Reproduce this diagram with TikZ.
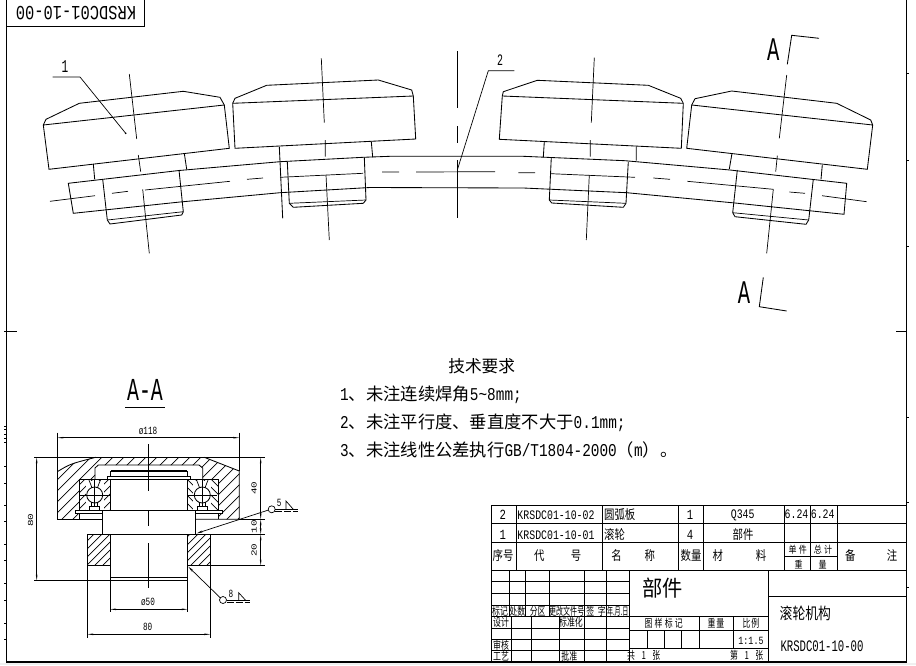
\documentclass[tikz,border=0pt]{standalone}
\usepackage{fontspec}
\usetikzlibrary{arrows.meta}
\newfontfamily\cjk{Noto Sans CJK SC}
\newfontfamily\latn{Liberation Mono}
\newcommand{\lat}[1]{\scalebox{.8}[1]{\latn\fontsize{18}{18}\selectfont #1}}
% hatch of a closed region: #1 path, #2 spacing, #3 direction
\newcommand{\hatchzone}[3]{\begin{scope}
  \clip #1;
  \foreach \k in {0,...,120} \draw[thinln] (\k*#2-200,660) -- ++(#3*220,-220);
  \end{scope}}
\begin{document}
\begin{tikzpicture}[x=1pt,y=-1pt,
    thinln/.style={line width=.7pt},
    partln/.style={line width=.85pt},
    frameln/.style={line width=1.3pt},
    tabln/.style={line width=1pt},
    dimln/.style={line width=.7pt,{Stealth[length=6pt,width=1.6pt]}-{Stealth[length=6pt,width=1.6pt]}},
    tag/.style={inner sep=0pt,font=\latn\fontsize{13}{13}\selectfont,xscale=.76,transform shape},
    cadmark/.style={inner sep=0pt,font=\latn\fontsize{20}{20}\selectfont,xscale=.77,transform shape},
    bigmono/.style={inner sep=0pt,font=\latn\fontsize{14}{14}\selectfont,xscale=.76,transform shape},
    leadtxt/.style={inner sep=0pt,font=\latn\fontsize{#1}{#1}\selectfont,xscale=.62,transform shape},
    dimtxt/.style={inner sep=0pt,font=\latn\fontsize{11}{11}\selectfont,xscale=.7,transform shape},
    zh/.style={inner sep=0pt,font=\cjk\fontsize{#1}{#1}\selectfont},
    zhs/.style={inner sep=0pt,font=\cjk\fontsize{#1}{#1}\selectfont,xscale=.8,transform shape},
    zhr/.style={inner sep=0pt,font=\cjk\fontsize{11}{11}\selectfont,xscale=.72,transform shape},
    note/.style={inner sep=0pt,anchor=west,font=\cjk\fontsize{17.3}{17.3}\selectfont},
]
  \useasboundingbox (0,0) rectangle (916,665);
  \fill[gray!12] (0,663) rectangle (916,665);

  % frame
  \draw[frameln] (6.3,0) -- (6.3,662) -- (906.7,662) -- (906.7,0);
  \draw[tabln] (6.3,26.7) -- (144,26.7) -- (144,0);
  \node[cadmark,rotate=180] (drawno) at (76,12.7) {KRSDC01-10-00};
  \draw[tabln] (4,331) -- (16.7,331) (896,331) -- (907,331);
  \foreach \t in {426,429,434,438,442,466,483,505,521,544,560,583,600,623,639} \draw[thinln] (4,\t) -- (6.3,\t);
  \foreach \t in {73,160,246,417,502,587} \draw[thinln] (906.7,\t) -- (908.5,\t);

  % roller 1
  \draw[partln] (43.3,125) -- (46,119.3) -- (79.3,103.3) -- (183.3,91.3) -- (220,97.3) -- (224.3,105) -- (229.3,148.3) -- (49,169.3) -- cycle;
  \draw[partln] (43.3,125) -- (224.3,105);
  \draw[partln] (93.3,164) -- (94.7,179.3) (184.3,153.3) -- (186.7,169.3);
  \draw[partln] (102.7,179.3) -- (107.3,220) -- (110,224) -- (181.7,215) -- (183.3,211.7) -- (179,170);
  \draw[thinln] (107.3,220) -- (183.3,211.7);
  \draw[thinln] (129.3,74) -- (136.7,139) (138.3,155) -- (140.7,171.7) (142.7,189.3) -- (149.3,253.3);

  % roller 2
  \draw[partln] (232.7,103.3) -- (235,98.3) -- (266.7,85.3) -- (378.3,80) -- (411.7,90) -- (413.3,96) -- (415.7,139) -- (235,148.3) -- cycle;
  \draw[partln] (232.7,103.3) -- (413.3,96);
  \draw[partln] (279.3,146.7) -- (282.7,218.3) (371.3,141.7) -- (372.7,157.3);
  \draw[partln] (287.3,161.7) -- (289.3,203.3) -- (293.3,207.3) -- (363.3,203.3) -- (366,200) -- (364.3,157.3);
  \draw[thinln] (289.3,203.3) -- (366,200);
  \draw[thinln] (321.3,58.3) -- (324.3,122.7) (325.3,140) -- (325.3,156.7) (326,175) -- (329.3,240);

  % roller 3
  \draw[partln] (502.3,96) -- (503.3,91.7) -- (537.3,80.3) -- (648.3,85.3) -- (680.7,98.3) -- (683.3,103.3) -- (681.3,148.3) -- (499.3,139.3) -- cycle;
  \draw[partln] (502.3,96) -- (683.3,103.3);
  \draw[partln] (544.3,141.7) -- (543.3,157.3) (636.3,146.7) -- (636.3,160.7);
  \draw[partln] (551.3,157.3) -- (549.3,200) -- (551.7,203) -- (623.3,207.3) -- (626,203.3) -- (628.3,161.7);
  \draw[thinln] (549.3,200) -- (626,203.3);
  \draw[thinln] (594.3,57.7) -- (591.3,122.7) (590.3,140) -- (590.3,156.7) (589.3,175) -- (586.3,240);

  % roller 4
  \draw[partln] (691.7,105) -- (695,98.7) -- (731.7,91) -- (836.7,103.3) -- (870.7,120) -- (872.7,125) -- (867.3,169.3) -- (686.7,148.3) -- cycle;
  \draw[partln] (691.7,105) -- (872.7,125);
  \draw[partln] (732,153.3) -- (729.3,169) (822.3,165) -- (821,179.3);
  \draw[partln] (737.3,170) -- (732.7,212.7) -- (735,216.7) -- (806,224.3) -- (808.7,220) -- (813.3,179.3);
  \draw[thinln] (732.7,212.7) -- (808.7,220);
  \draw[thinln] (786.7,75) -- (779.3,138.3) (777.3,155.7) -- (775.7,171.7) (773.3,189.3) -- (766.7,253.3);

  % arc plate
  \draw[partln] (73.3,213.3) -- (68.3,183.3) -- (179,170.5) -- (280,161.7) -- (363,157.3) -- (390,156.3) -- (523.3,156.3) -- (625,160.7) -- (730,170) -- (846.7,183.3) -- (844,214.3) -- (735,203) -- (626.7,192.7) -- (523.3,188) -- (370,187.5) -- (280,192.7) -- (180,202) -- cycle;
  % centre line of the plate
  \draw[thinln] (50,201.3) -- (95,195.7) (112,193.3) -- (128,191.3) (145,190) -- (230,181.3) (247,179.3) -- (263,178) (280,177.3) -- (363,173.3) (382,172) -- (399,172) (416,172) -- (495,171.7) (518.3,172.7) -- (535,172.7) (551,173.7) -- (635,177.3) (653.3,178) -- (670,179.3) (687.3,181.3) -- (773.3,189.3) (789.3,192) -- (805,193.3) (822,195.7) -- (866.7,201.7);
  \draw[thinln] (457.3,51) -- (457.3,108.3) (457.3,126) -- (457.3,142.7) (457.3,160) -- (457.3,217.7);

  % leaders
  \fill (125.7,133.3) circle (.9pt);
  \draw[thinln] (52.7,77) -- (80,77) -- (125.7,133.3);
  \node[leadtxt=18] (one) at (65,66.7) {1};
  \draw[thinln] (514.3,70.7) -- (488.3,70.7) -- (457.3,170);
  \node[leadtxt=16] (two) at (500,60) {2};

  % section marks
  \node[leadtxt=33] (secA) at (773.3,49.3) {A};
  \draw[partln] (787.3,64.3) -- (791.7,35.3) -- (819,38.3);
  \node[leadtxt=33] (secB) at (744,293) {A};
  \draw[partln] (763.3,277.3) -- (759.3,306.7) -- (786.7,311);

  % technical notes
  \node[zh=16.7] (noteH) at (481.7,365.7) {技术要求};
  \node[note] (noteA) at (340,395) {\lat{1}、未注连续焊角\lat{5\textasciitilde8mm;}};
  \node[note] (noteB) at (340,422.3) {\lat{2}、未注平行度、垂直度不大于\lat{0.1mm;}};
  \node[note] (noteC) at (340,450) {\lat{3}、未注线性公差执行\lat{GB/T1804-2000}（\lat{m}）。};

  % section A-A
  \node[leadtxt=32] (secTitle) at (145,390) {A-A};
  \draw[partln] (125,407.3) -- (165,407.3);

  \hatchzone{(57.3,471.7) -- (70,464) -- (95.7,457.3) -- (204.3,457.3) -- (239.3,471) -- (239.3,519.3) -- (218.7,519.3) -- (218.7,479.3) -- (202.7,479.3) -- (202.7,468) -- (199,465) -- (98.3,465) -- (95,468) -- (95,479.3) -- (79.3,479.3) -- (79.3,519.3) -- (57.3,519.3) -- cycle}{11}{1}
  \hatchzone{(79.3,479.3) rectangle (110,510)}{8}{1}
  \hatchzone{(187.7,479.3) rectangle (218.7,510)}{8}{-1}
  \hatchzone{(87.3,534.3) rectangle (110,565.7)}{8}{1}
  \hatchzone{(187.7,534.3) rectangle (210.3,565.7)}{8}{1}
  \foreach \c in {94.7,202.3} {
    \fill[white] (\c-9,481) rectangle (\c+9,510);
    \draw[partln,fill=white] (\c,495) circle (8);
    \draw[thinln] (\c-15,495) -- (\c+15,495) (\c,479.3) -- (\c,510);
    \draw[thinln] (\c-6,479.3) -- (\c-3,487) (\c+6,479.3) -- (\c+3,487);
    \draw[thinln,fill=white] (\c-5,506) rectangle (\c+5,510);
    \draw[thinln] (\c-3,506) -- (\c-3,502) (\c+3,506) -- (\c+3,502);
  }
  \draw[partln] (57.3,471.7) .. controls (70,464) .. (95.7,457.3);
  \draw[partln] (204.3,457.3) -- (239.3,471) -- (239.3,519.3) -- (195.3,519.3);
  \draw[partln] (57.3,432.7) -- (57.3,519.3) -- (102.7,519.3);
  \draw[thinln] (239.3,432.7) -- (239.3,471);
  \draw[partln] (34.3,457.3) -- (265,457.3);
  \draw[partln] (239.3,519.3) -- (265,519.3);
  \draw[partln] (87.3,534.3) -- (265,534.3);
  \draw[partln] (187.7,565.7) -- (265,565.7);
  \draw[partln] (87.3,565.7) -- (110,565.7);
  \draw[partln] (87.3,534.3) -- (87.3,638.3) (210.3,534.3) -- (210.3,638.3);
  \draw[partln] (95,479.3) -- (95,468) -- (98.3,465) -- (199,465) -- (202.7,468) -- (202.7,479.3);
  \draw[partln] (79.3,519.3) -- (79.3,479.3) -- (218.7,479.3) -- (218.7,519.3);
  \draw[partln] (107.3,476.7) rectangle (190,479.3);
  \draw[partln] (110.7,476.7) -- (110.7,471) -- (187,471) -- (187,476.7);
  \draw[line width=1.6pt] (111,470.7) -- (187,470.7);
  \draw[partln] (110,479.3) -- (110,510) (187.7,479.3) -- (187.7,510);
  \draw[partln] (79.3,510) -- (218.7,510);
  \draw[partln] (102.7,510) rectangle (195.3,534.3);
  \draw[partln,fill=white] (75.3,510) rectangle (102.7,513.3) (195.3,510) rectangle (222.7,513.3);
  \draw[partln] (79.3,513.3) -- (79.3,519.3) (218.7,513.3) -- (218.7,519.3);
  \draw[partln] (110,534.3) -- (110,611.7) (187.7,534.3) -- (187.7,611.7);
  \draw[partln] (110,577.3) -- (187.7,577.3) (111,580.7) -- (186.7,580.7);
  \draw[partln] (34.3,580.7) -- (110,580.7);
  % centre line of the section
  \draw[thinln] (148.3,444) -- (148.3,491) (148.3,510) -- (148.3,525.7) (148.3,543.3) -- (148.3,588);

  % dimensions
  \draw[dimln] (57.3,437.7) -- (239.3,437.7);
  \node[dimtxt] (dimA) at (148,430.7) {ø118};
  \draw[dimln] (36.7,457.3) -- (36.7,580.7);
  \node[dimtxt,rotate=90] (dimB) at (30.7,520) {80};
  \draw[dimln] (260.7,457.3) -- (260.7,519.3);
  \draw[dimln] (260.7,519.3) -- (260.7,534.3);
  \draw[dimln] (260.7,534.3) -- (260.7,565.7);
  \node[dimtxt,rotate=90] (dimC) at (254,488.3) {40};
  \node[dimtxt,rotate=90] (dimD) at (254,526.7) {10};
  \node[dimtxt,rotate=90] (dimE) at (254,550) {20};
  \draw[dimln] (110,609.3) -- (187.7,609.3);
  \node[dimtxt] (dimF) at (148,601.7) {ø50};
  \draw[dimln] (87.3,634.3) -- (210.3,634.3);
  \node[dimtxt] (dimG) at (147.7,626.7) {80};

  % weld marks
  \draw[thinln,{Stealth[length=6pt,width=2pt]}-] (196.7,533.3) -- (268.5,510);
  \draw[thinln] (271.7,509.3) circle (3.5);
  \draw[thinln] (275.2,509.8) -- (297.7,509.8);
  \draw[thinln,dashed,dash pattern=on 7pt off 2pt] (275.2,511.8) -- (297.7,511.8);
  \draw[thinln] (286,509.3) -- (286,501) -- (293.3,509.3);
  \node[dimtxt] (weldA) at (279.3,503.3) {5};
  \draw[thinln,{Stealth[length=6pt,width=2pt]}-] (188.3,566.7) -- (220.5,598);
  \draw[thinln] (223,600) circle (3.5);
  \draw[thinln] (226.5,600) -- (250,600);
  \draw[thinln,dashed,dash pattern=on 7pt off 2pt] (226.5,602.2) -- (250,602.2);
  \draw[thinln] (238.7,600.7) -- (238.7,592.7) -- (246,600.7);
  \node[dimtxt] (weldB) at (231,594) {8};

  % parts list
  \draw[tabln] (491.3,505) -- (906.7,505) (491.3,523.3) -- (906.7,523.3) (491.3,542.3) -- (906.7,542.3) (491.3,570) -- (906.7,570);
  \draw[tabln] (491.3,505) -- (491.3,662);
  \foreach \c in {516.7,602.7,678.7,703.3,784.3,837.7} \draw[tabln] (\c,505) -- (\c,570);
  \draw[tabln] (810,505) -- (810,570) (784.3,556.7) -- (837.7,556.7);

  \node[bigmono] (n2) at (502.7,515) {2};
  \node[tag] (code2) at (556,515) {KRSDC01-10-02};
  \node[zhs=13,anchor=west] (name2) at (604,515) {圆弧板};
  \node[bigmono] (q2) at (690,515) {1};
  \node[tag] (mat2) at (742.7,515) {Q345};
  \node[tag] (wa2) at (796.5,514) {6.24};
  \node[tag] (wb2) at (822.7,514) {6.24};
  \node[bigmono] (n1) at (502.7,535) {1};
  \node[tag] (code1) at (556,535) {KRSDC01-10-01};
  \node[zhs=13,anchor=west] (name1) at (604,535) {滚轮};
  \node[bigmono] (q1) at (690,535) {4};
  \node[zhs=13] (mat1) at (743,535) {部件};
  \node[zhs=13] (hNo) at (503,556) {序号};
  \node[zhs=13] (hCode) at (557.7,556) {代\hspace{33pt}号};
  \node[zhs=13] (hName) at (633.3,556) {名\hspace{28.6pt}称};
  \node[zhs=13] (hQty) at (691,556) {数量};
  \node[zhs=13] (hMat) at (739.5,556) {材\hspace{41pt}料};
  \node[zhs=10] (hUnit) at (797.7,550) {单\hspace{3pt}件};
  \node[zhs=10] (hTot) at (823,550) {总\hspace{3pt}计};
  \node[zhs=10] (hW) at (810.5,564.5) {重\hspace{20pt}量};
  \node[zhs=13] (hNote) at (871.2,556) {备\hspace{39pt}注};

  % title block
  \foreach \r in {581.7,593.3,605,616.7,628.3,639.3,650.7} \draw[tabln] (491.3,\r) -- (629.3,\r);
  \foreach \c in {509.3,525.3,549.3,584.3,606} \draw[tabln] (\c,570) -- (\c,616.7);
  \foreach \c in {511,531,559.3,584.3,606.7} \draw[tabln] (\c,616.7) -- (\c,662);
  \draw[tabln] (629.3,570) -- (629.3,662) (768.3,570) -- (768.3,662);
  \draw[tabln] (768.3,596.7) -- (906.7,596.7);
  \draw[tabln] (629.3,616.7) -- (768.3,616.7) (629.3,630) -- (768.3,630) (629.3,648.3) -- (768.3,648.3);
  \foreach \c in {699.3,733.3} \draw[tabln] (\c,616.7) -- (\c,648.3);
  \foreach \c in {647.7,664.3,681.7} \draw[tabln] (\c,630) -- (\c,648.3);

  \node[zhr] (rMark) at (500,611) {标记};
  \node[zhr] (rCount) at (517.3,611) {处数};
  \node[zhr] (rZone) at (537.7,611) {分区};
  \node[zhr,xscale=.89] (rFile) at (566.7,611) {更改文件号};
  \node[zhr] (rSign) at (596,611) {签\hspace{5pt}字};
  \node[zhr,xscale=.76] (rDate) at (617.7,611) {年.月.日};
  \node[zhr] (rDes) at (501,622.5) {设计};
  \node[zhr] (rStd) at (571,622.5) {标准化};
  \node[zhr] (rChk) at (501,645) {审核};
  \node[zhr] (rTec) at (501,656) {工艺};
  \node[zhr] (rApp) at (569.3,656) {批准};
  \node[zhr] (bMark) at (663.7,623.3) {图\hspace{3pt}样\hspace{3pt}标\hspace{3pt}记};
  \node[zhr] (bWt) at (716,623.3) {重\hspace{1pt}量};
  \node[zhr] (bScale) at (751,623.3) {比\hspace{1pt}例};
  \node[tag,font=\latn\fontsize{11}{11}\selectfont] (bRatio) at (751,641) {1:1.5};
  \node[zhr] (bAll) at (643.8,655.7) {共\hspace{9pt}1\hspace{9pt}张};
  \node[zhr] (bPage) at (746.7,655.7) {第\hspace{9pt}1\hspace{9pt}张};
  \node[zh=22,xscale=.92,transform shape] (titleA) at (662.7,588.3) {部件};
  \node[zhs=16] (titleB) at (805.3,613.3) {滚轮机构};
  \node[bigmono,font=\latn\fontsize{16}{16}\selectfont,xscale=.875] (titleC) at (822,646.7) {KRSDC01-10-00};

\end{tikzpicture}
\end{document}
